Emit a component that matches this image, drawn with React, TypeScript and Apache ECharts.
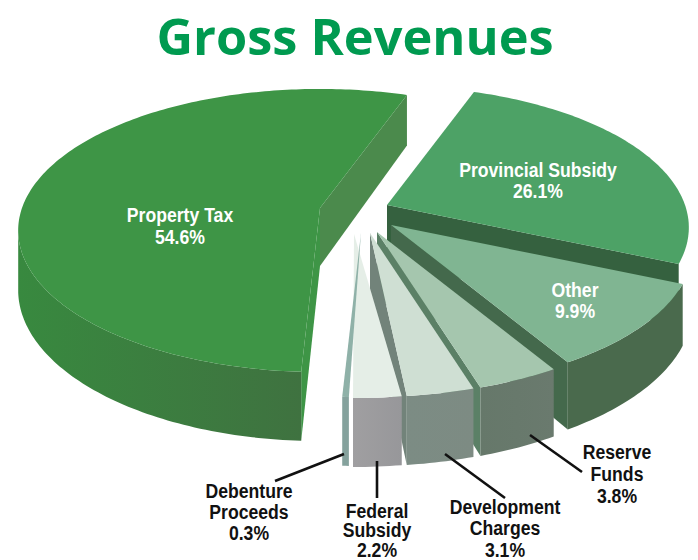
import React, { useEffect, useRef } from "react";
import * as echarts from "echarts";

const titleText = "Gross Revenues";
// Clockwise from the first cut, as in the picture
const categories = [
  "Property Tax",
  "Provincial Subsidy",
  "Other",
  "Reserve Funds",
  "Development Charges",
  "Federal Subsidy",
  "Debenture Proceeds",
];
const values = [54.6, 26.1, 9.9, 3.8, 3.1, 2.2, 0.3];

// Layout of the pie
const firstAngle = 19.6 - 196.56; // degrees, clockwise from the back of the pie
const pieRadius = 298;
const pieTilt = 138;
const perspective = 0.159;
const pieDepth = 58;
const wedgeX = [320, 387, 391, 377, 370, 354, 361];
const wedgeY = [208, 205, 225, 232, 233, 234, 233];
const angleNudge = [0, 0, 0, 0, 0, -1.8, 0];
const hasOuterWall = [true, false, true, true, true, true, true];

const topColors = ["#3e9546", "#4da266", "#80b592", "#a5c6ae", "#cfdfd3", "#e5eee7", "#8fb1a8"];
const cutColors = ["#4b8a4c", "#35613f", "#44694c", "#5b8066", "#72837a", "#8b8f8c", "#87a5a0"];
const frontCutColors = ["#3e9546", "#35613f", "#44694c", "#5b8066", "#72837a", "#8b8f8c", "#87a5a0"];
const wallLeft = ["#38893f", "#3f8250", "#4a6a4d", "#66786a", "#7c8c84", "#a09fa1", "#85a29d"];
const wallRight = ["#3f7240", "#3f8250", "#4a6a4d", "#6a7a6e", "#7d8b83", "#97979a", "#85a29d"];

const labelLines = [
  ["Property Tax"],
  ["Provincial Subsidy"],
  ["Other"],
  ["Reserve", "Funds"],
  ["Development", "Charges"],
  ["Federal", "Subsidy"],
  ["Debenture", "Proceeds"],
];
const labelX = [180, 538, 575, 617, 505, 377, 249];
const labelY = [214, 169, 289, 451, 506, 510, 490];
const labelStep = [22, 21, 21, 22, 21.5, 19.7, 21];
const labelFill = ["#fff", "#fff", "#fff", "#111", "#111", "#111", "#111"];
const leaders: (number[] | null)[] = [
  null,
  null,
  null,
  [530, 435, 582, 472],
  [445, 454, 505, 498],
  [377, 461, 377, 498],
  [275, 481, 344, 454],
];

const rad = Math.PI / 180;

function point(cx: number, cy: number, deg: number) {
  const X = Math.sin(deg * rad);
  const Y = -Math.cos(deg * rad);
  const w = 1 - perspective * Y;
  return {
    x: cx + (pieRadius * X) / w,
    y: cy + (pieTilt * Y) / w,
    d: pieDepth / w,
    front: Y >= perspective,
  };
}

export default function App() {
  const ref = useRef<HTMLDivElement>(null);
  useEffect(() => {
    const chart = echarts.init(ref.current!, null, { renderer: "svg" });
    const total = values.reduce((a, b) => a + b, 0);
    const renderItem = (params: any, api: any) => {
      const i = params.dataIndex;
      const before = values.slice(0, i).reduce((a, b) => a + b, 0);
      const value = api.value(0);
      const start = firstAngle + (before / total) * 360 + angleNudge[i];
      const span = (value / total) * 360;
      const end = start + span;
      const cx = wedgeX[i];
      const cy = wedgeY[i];
      const arc: number[][] = [];
      const wallTop: number[][] = [];
      const wallLow: number[][] = [];
      const n = Math.max(2, Math.ceil(span));
      for (let k = 0; k <= n; k++) {
        const p = point(cx, cy, start + (span * k) / n);
        arc.push([p.x, p.y]);
        if (p.front) {
          wallTop.push([p.x, p.y]);
          wallLow.push([p.x, p.y + p.d]);
        }
      }
      const children: any[] = [];
      const cut = (p: { x: number; y: number; d: number }, fill: string) =>
        children.push({
          type: "polygon",
          shape: {
            points: [
              [cx, cy],
              [p.x, p.y],
              [p.x, p.y + p.d],
              [cx, cy + pieDepth],
            ],
          },
          style: { fill },
        });
      if (span >= 2) {
        if (Math.sin(end * rad) > 0) cut(point(cx, cy, end), cutColors[i]);
        if (-Math.sin(start * rad) > 0) cut(point(cx, cy, start), frontCutColors[i]);
      }
      if (hasOuterWall[i] && wallTop.length > 1) {
        children.push({
          type: "polygon",
          shape: { points: wallTop.concat(wallLow.slice().reverse()) },
          style: {
            fill: {
              type: "linear",
              x: 0,
              y: 0,
              x2: 1,
              y2: 0,
              colorStops: [
                { offset: 0, color: wallLeft[i] },
                { offset: 1, color: wallRight[i] },
              ],
            },
          },
        });
      }
      children.push({
        type: "polygon",
        shape: { points: [[cx, cy], ...arc] },
        style: { fill: topColors[i] },
      });
      const lead = leaders[i];
      if (lead) {
        children.push({
          type: "line",
          shape: { x1: lead[0], y1: lead[1], x2: lead[2], y2: lead[3] },
          style: { stroke: "#111", lineWidth: 2.6 },
        });
      }
      const lines = [...labelLines[i], `${value.toFixed(1)}%`];
      lines.forEach((text, k) => {
        children.push({
          type: "text",
          x: labelX[i],
          y: labelY[i] + k * labelStep[i],
          scaleX: 0.84,
          style: {
            text,
            x: 0,
            y: 0,
            align: "center",
            verticalAlign: "middle",
            fill: labelFill[i],
            font: "bold 21px 'Liberation Sans', sans-serif",
          },
        });
      });
      return { type: "group", children };
    };
    chart.setOption({
      animation: false,
      backgroundColor: "#ffffff",
      title: {
        text: titleText,
        left: 350,
        top: 5,
        textAlign: "center",
        textStyle: {
          color: "#009a50",
          fontSize: 50.5,
          fontWeight: 700,
          fontFamily: "'Open Sans', sans-serif",
        },
      },
      series: [
        {
          type: "custom",
          coordinateSystem: "none",
          silent: true,
          clip: false,
          renderItem,
          data: values.map((v, i) => ({ name: categories[i], value: [v] })),
        },
      ],
    });
    return () => chart.dispose();
  }, []);
  return (
    <div
      ref={ref}
      style={{ position: "fixed", left: 0, top: 0, width: 698, height: 560 }}
    />
  );
}
